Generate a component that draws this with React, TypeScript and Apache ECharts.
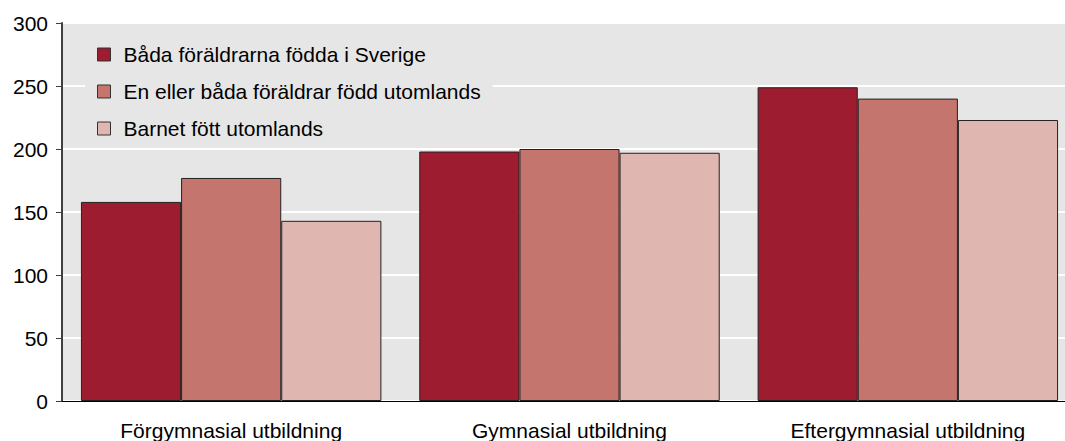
import React, { useEffect, useRef } from "react";
import * as echarts from "echarts";

const categories = ["Förgymnasial utbildning", "Gymnasial utbildning", "Eftergymnasial utbildning"];
const seriesNames = [
  "Båda föräldrarna födda i Sverige",
  "En eller båda föräldrar född utomlands",
  "Barnet fött utomlands",
];
const bothSweden = [158, 198, 249];
const oneAbroad = [177, 200, 240];
const childAbroad = [143, 197, 223];
const colors = ["#9E1C2F", "#C4756E", "#E0B7B0"];

export default function App() {
  const ref = useRef<HTMLDivElement>(null);
  useEffect(() => {
    document.body.style.margin = "0";
    const chart = echarts.init(ref.current!, null, { renderer: "svg" });
    const font = "'Liberation Sans', Arial, sans-serif";
    const data = [bothSweden, oneAbroad, childAbroad];
    chart.setOption({
      animation: false,
      textStyle: { fontFamily: font },
      grid: {
        left: 62,
        right: -12,
        top: 23,
        bottom: 40,
        show: true,
        backgroundColor: "#E6E6E6",
        borderWidth: 0,
        outerBoundsMode: "none",
        containLabel: false,
      },
      legend: {
        orient: "vertical",
        left: 85,
        top: 38,
        padding: [6, 12, 6, 12],
        itemGap: 16,
        itemWidth: 13,
        itemHeight: 13,
        backgroundColor: "#E6E6E6",
        icon: "rect",
        itemStyle: { borderColor: "#333", borderWidth: 1 },
        textStyle: { fontSize: 21, color: "#000", fontFamily: font, lineHeight: 21, padding: [0, 0, 0, 8] },
        data: seriesNames,
      },
      xAxis: {
        type: "category",
        data: categories,
        axisLine: { lineStyle: { color: "#000", width: 1 } },
        axisTick: { show: false },
        axisLabel: { fontSize: 21, color: "#000", margin: 19, fontFamily: font },
      },
      yAxis: {
        type: "value",
        min: 0,
        max: 300,
        interval: 50,
        axisLine: { show: true, lineStyle: { color: "#404040", width: 2 } },
        axisTick: { show: true, length: 6, lineStyle: { color: "#404040", width: 1 } },
        axisLabel: { fontSize: 21, color: "#000", margin: 14, fontFamily: font },
        splitLine: { lineStyle: { color: "#FFFFFF", width: 2 } },
      },
      series: seriesNames.map((name, i) => ({
        name,
        type: "bar",
        data: data[i],
        barGap: "0%",
        barCategoryGap: "11.2%",
        itemStyle: { color: colors[i], borderColor: "#222", borderWidth: 1 },
      })),
    });
    return () => chart.dispose();
  }, []);
  return <div ref={ref} style={{ width: 1065, height: 441 }} />;
}
